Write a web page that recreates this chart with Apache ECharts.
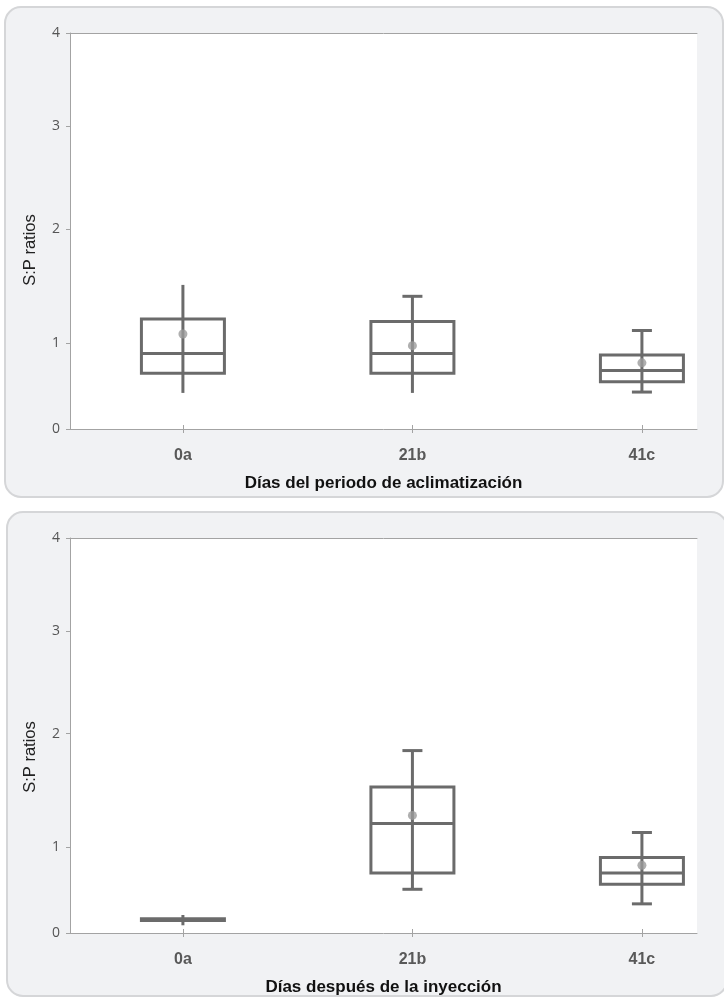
<!DOCTYPE html>
<html>
<head>
<meta charset="utf-8">
<script src="https://cdn.jsdelivr.net/npm/echarts@6/dist/echarts.min.js"></script>
<style>
  html, body { margin: 0; padding: 0; background: #fff; }
  #chart { width: 724px; height: 997px; }
</style>
</head>
<body>
<div id="chart"></div>
<script>
// categories on the x axis
var categories = ['0a', '21b', '41c'];

// y tick labels
var yTicks = [0, 1, 2, 3, 4];

// panel 1: Días del periodo de aclimatización
var aclimLow    = [0.42, 0.42, 0.43];
var aclimQ1     = [0.65, 0.65, 0.55];
var aclimMedian = [0.88, 0.88, 0.68];
var aclimQ3     = [1.21, 1.19, 0.86];
var aclimHigh   = [1.51, 1.41, 1.11];
var aclimMean   = [1.08, 0.97, 0.77];

// panel 2: Días después de la inyección
var inyLow    = [0.09, 0.51, 0.34];
var inyQ1     = [0.145, 0.70, 0.57];
var inyMedian = [0.155, 1.21, 0.70];
var inyQ3     = [0.165, 1.53, 0.88];
var inyHigh   = [0.21, 1.85, 1.13];
var inyMean   = [null, 1.28, 0.79];

// the original y scale is not even: where each tick sits along the axis (0..1)
var Y_STOPS = [0, 0.217, 0.505, 0.765, 1];
var X_MIN = -0.492, X_MAX = 2.24;

var BOX_COLOR = '#6b6b6b';
var AXIS_COLOR = '#a3a3a3';

// map a value to its place on the uneven axis
function toAxis(v) {
  if (v == null) return null;
  for (var i = 1; i < yTicks.length; i++) {
    if (v <= yTicks[i]) {
      var t = (v - yTicks[i - 1]) / (yTicks[i] - yTicks[i - 1]);
      return Y_STOPS[i - 1] + t * (Y_STOPS[i] - Y_STOPS[i - 1]);
    }
  }
  return 1;
}

function boxData(low, q1, med, q3, high) {
  return categories.map(function (c, k) {
    return [k, toAxis(low[k]), toAxis(q1[k]), toAxis(med[k]), toAxis(q3[k]), toAxis(high[k])];
  });
}

function meanData(mean) {
  var out = [];
  mean.forEach(function (m, k) {
    if (m != null) out.push([k, toAxis(m)]);
  });
  return out;
}

function makeRenderer(capTop, capBottom) {
  return function (params, api) {
    var k = api.value(0);
    var pLow = api.coord([k, api.value(1)]);
    var pQ1 = api.coord([k, api.value(2)]);
    var pMed = api.coord([k, api.value(3)]);
    var pQ3 = api.coord([k, api.value(4)]);
    var pHigh = api.coord([k, api.value(5)]);
    var cx = pLow[0];
    var hw = 41.5, cw = 10;
    var style = { stroke: BOX_COLOR, lineWidth: 3, fill: null };
    var children = [
      { type: 'line', shape: { x1: cx, y1: pHigh[1], x2: cx, y2: pLow[1] }, style: style },
      { type: 'rect', shape: { x: cx - hw, y: pQ3[1], width: hw * 2, height: pQ1[1] - pQ3[1] }, style: style },
      { type: 'line', shape: { x1: cx - hw, y1: pMed[1], x2: cx + hw, y2: pMed[1] }, style: style }
    ];
    if (capTop[params.dataIndex]) {
      children.push({ type: 'line', shape: { x1: cx - cw, y1: pHigh[1], x2: cx + cw, y2: pHigh[1] }, style: style });
    }
    if (capBottom[params.dataIndex]) {
      children.push({ type: 'line', shape: { x1: cx - cw, y1: pLow[1], x2: cx + cw, y2: pLow[1] }, style: style });
    }
    return { type: 'group', children: children };
  };
}

var grids = [
  { left: 70, top: 33, width: 627, height: 396 },
  { left: 70, top: 538, width: 627, height: 396 }
];
var titles = ['Días del periodo de aclimatización', 'Días después de la inyección'];

var xAxes = [], yAxes = [];
grids.forEach(function (g, i) {
  xAxes.push({
    type: 'value', gridIndex: i, min: X_MIN, max: X_MAX, position: 'bottom',
    name: titles[i], nameLocation: 'middle', nameGap: 46,
    nameTextStyle: { fontFamily: 'Liberation Sans', fontWeight: 'bold', fontSize: 17, color: '#111' },
    axisLine: { show: true, onZero: false, lineStyle: { color: AXIS_COLOR, width: 1 } },
    axisTick: { show: true, length: 4, customValues: [0, 1, 2], lineStyle: { color: AXIS_COLOR } },
    axisLabel: {
      customValues: [0, 1, 2], margin: 19,
      formatter: function (v) { return categories[Math.round(v)]; },
      fontFamily: 'Liberation Sans', fontWeight: 'bold', fontSize: 16, color: '#595959'
    },
    splitLine: { show: false }
  });
  // inner half of the crossing ticks
  xAxes.push({
    type: 'value', gridIndex: i, min: X_MIN, max: X_MAX, position: 'bottom',
    axisLine: { show: false, onZero: false },
    axisTick: { show: true, inside: true, length: 4, customValues: [0, 1, 2], lineStyle: { color: AXIS_COLOR } },
    axisLabel: { show: false },
    splitLine: { show: false }
  });
  // top border line
  xAxes.push({
    type: 'value', gridIndex: i, min: X_MIN, max: X_MAX, position: 'top',
    axisLine: { show: true, onZero: false, lineStyle: { color: AXIS_COLOR, width: 1 } },
    axisTick: { show: false }, axisLabel: { show: false }, splitLine: { show: false }
  });
  yAxes.push({
    type: 'value', gridIndex: i, min: 0, max: 1,
    axisLine: { show: true, onZero: false, lineStyle: { color: AXIS_COLOR, width: 1 } },
    axisTick: { show: true, length: 4, customValues: Y_STOPS, lineStyle: { color: AXIS_COLOR } },
    axisLabel: {
      customValues: Y_STOPS, margin: 10,
      formatter: function (v) {
        var best = 0;
        Y_STOPS.forEach(function (s, j) { if (Math.abs(s - v) < Math.abs(Y_STOPS[best] - v)) best = j; });
        return String(yTicks[best]);
      },
      fontFamily: 'Open Sans', fontSize: 14, color: '#555'
    },
    splitLine: { show: false }
  });
});

var chart = echarts.init(document.getElementById('chart'), null, { renderer: 'canvas' });

chart.setOption({
  animation: false,
  backgroundColor: '#fff',
  graphic: [
    { type: 'rect', z: -100, shape: { x: 5, y: 7, width: 718, height: 490, r: 16 },
      style: { fill: '#f1f2f4', stroke: '#d5d6d8', lineWidth: 2 } },
    { type: 'rect', z: -100, shape: { x: 7, y: 512, width: 720, height: 484, r: 16 },
      style: { fill: '#f1f2f4', stroke: '#d5d6d8', lineWidth: 2 } },
    { type: 'text', x: 30, y: 250, rotation: Math.PI / 2,
      style: { text: 'S:P ratios', fill: '#222', font: '16.5px "Liberation Sans"', align: 'center', verticalAlign: 'middle' } },
    { type: 'text', x: 30, y: 757, rotation: Math.PI / 2,
      style: { text: 'S:P ratios', fill: '#222', font: '16.5px "Liberation Sans"', align: 'center', verticalAlign: 'middle' } }
  ],
  grid: grids.map(function (g) {
    return { left: g.left, top: g.top, width: g.width, height: g.height,
      show: true, backgroundColor: '#fff', borderWidth: 0 };
  }),
  xAxis: xAxes,
  yAxis: yAxes,
  series: [
    {
      type: 'custom', xAxisIndex: 0, yAxisIndex: 0,
      renderItem: makeRenderer([false, true, true], [false, false, true]),
      encode: { x: 0, y: [1, 2, 3, 4, 5] },
      data: boxData(aclimLow, aclimQ1, aclimMedian, aclimQ3, aclimHigh)
    },
    {
      type: 'scatter', xAxisIndex: 0, yAxisIndex: 0, symbol: 'circle', symbolSize: 9, z: 5,
      itemStyle: { color: '#9b9b9b' },
      data: meanData(aclimMean)
    },
    {
      type: 'custom', xAxisIndex: 3, yAxisIndex: 1,
      renderItem: makeRenderer([false, true, true], [false, true, true]),
      encode: { x: 0, y: [1, 2, 3, 4, 5] },
      data: boxData(inyLow, inyQ1, inyMedian, inyQ3, inyHigh)
    },
    {
      type: 'scatter', xAxisIndex: 3, yAxisIndex: 1, symbol: 'circle', symbolSize: 9, z: 5,
      itemStyle: { color: '#9b9b9b' },
      data: meanData(inyMean)
    }
  ]
});
</script>
</body>
</html>
